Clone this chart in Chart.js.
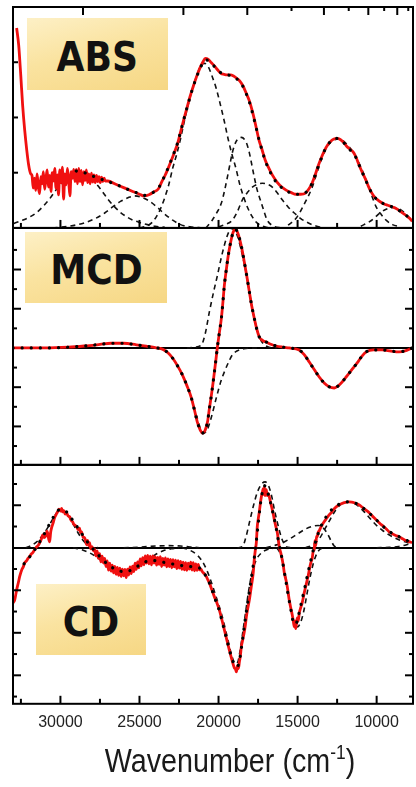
<!DOCTYPE html>
<html>
<head>
<meta charset="utf-8">
<title>ABS / MCD / CD</title>
<script src="https://cdn.jsdelivr.net/npm/chart.js@4"></script>
<style>
    body { margin: 0; background: #fff; }
    #wrap { position: relative; width: 416px; height: 787px; overflow: hidden; }
    #spectra { position: absolute; left: 0; top: 0; }
    .tag {
        position: absolute; display: flex; align-items: center; justify-content: center;
        padding-top: 6px; box-sizing: border-box;
        background: linear-gradient(165deg, #fdf0c6 0%, #fae3a0 45%, #f6d784 100%);
    }
    .tag span {
        font-family: "DejaVu Sans", sans-serif; font-weight: bold; font-size: 41px;
        line-height: 1; color: #111; transform: scaleX(0.88);
    }
    #xTitle {
        position: absolute; left: 230px; top: 744px; white-space: nowrap;
        font-family: "Liberation Sans", Arial, sans-serif; font-size: 33px; line-height: 33px;
        color: #1a1a1a; transform: translateX(-50%) scaleX(0.87);
    }
    #xTitle .sup { font-size: 20px; position: relative; top: -13px; }
</style>
</head>
<body>
<div id="wrap">
    <canvas id="spectra" width="416" height="787"></canvas>
    <div class="tag" style="left:27px;top:18px;width:141px;height:72px"><span>ABS</span></div>
    <div class="tag" style="left:25px;top:232px;width:142px;height:71px"><span>MCD</span></div>
    <div class="tag" style="left:36px;top:584px;width:110px;height:71px"><span>CD</span></div>
    <div id="xTitle">Wavenumber (cm<span class="sup">-1</span>)</div>
</div>
<script>
// axis ticks (cm-1 bottom, nm on top of the ABS panel)
var xMajorTicks = [30000, 25000, 20000, 15000, 10000];
var xMinorTicks = [32500, 27500, 22500, 17500, 12500];
var topNmMajor = [350, 450, 550, 750, 950, 1150];
var topNmMinor = [650, 850, 1050, 1250];
var absLeftTicks = [1, 2, 3];
var mcdMajorTicks = [-2, -1, 1, 2];
var mcdMinorTicks = [-2.5, -1.5, -0.5, 0.5, 1.5, 2.5];
var cdMajorTicks = [-6, -4, -2, 2];
var cdMinorTicks = [-7, -5, -3, -1, 1, 3];

// ---------- ABS ----------
var absExpW = [
    32770, 32640, 32510, 32390, 32260, 32130, 32010, 31880,
    31800, 31720, 31640, 31560, 31480, 31400, 31320, 31240, 31160, 31080,
    31000, 30920, 30840, 30760, 30680, 30600, 30520, 30440, 30360, 30280,
    30200, 30120, 30040, 29960, 29880, 29800, 29720, 29640, 29560, 29480,
    29400, 29320, 29240, 29160, 29080, 29000, 28920, 28840, 28760, 28680,
    28600, 28520, 28440, 28360, 28280, 28200, 28120, 28040, 27960, 27880,
    27800, 27720, 27640, 27560, 27480, 27400, 27320, 27240, 27160,
    27000, 26500, 26000, 25500, 25000, 24700, 24400, 24100, 23800,
    23600, 23400, 23200, 23000, 22800, 22600, 22400, 22200, 22000, 21800,
    21600, 21400, 21200, 21000, 20830, 20650, 20450, 20250, 20050, 19850,
    19650, 19450, 19250, 19050, 18850, 18650, 18450, 18250, 18050, 17850,
    17650, 17450, 17250, 17050, 16850, 16600, 16300, 16000, 15700, 15400,
    15100, 14800, 14500, 14300, 14100, 13900, 13700, 13500, 13300, 13100,
    12900, 12700, 12500, 12300, 12100, 11900, 11700, 11500, 11300, 11100,
    10900, 10700, 10500, 10300, 10100, 9900, 9700, 9500, 9300, 9100,
    8900, 8700, 8500, 8300, 8100, 7900, 7750
];
var absExpA = [
    3.62, 3.31, 2.77, 2.22, 1.77, 1.41, 1.14, 0.98,
    0.95, 0.72, 0.90, 0.68, 0.98, 0.75, 0.62, 0.93, 0.80, 1.02,
    0.70, 0.88, 1.05, 0.74, 0.95, 0.66, 1.00, 0.85, 1.08, 0.72,
    0.96, 0.60, 1.05, 0.82, 1.10, 0.52, 0.98, 0.78, 1.08, 0.86,
    0.58, 1.02, 0.90, 1.06, 0.84, 1.06, 0.80, 1.08, 0.84, 1.04,
    0.78, 1.02, 0.86, 1.05, 0.82, 0.98, 0.80, 0.99, 0.83, 0.96,
    0.82, 0.95, 0.84, 0.93, 0.82, 0.92, 0.84, 0.90, 0.85,
    0.85, 0.79, 0.73, 0.67, 0.61, 0.58, 0.60, 0.65, 0.71,
    0.83, 0.94, 1.07, 1.21, 1.36, 1.52, 1.74, 1.96, 2.17, 2.38,
    2.56, 2.73, 2.88, 3.00, 3.07, 3.05, 2.99, 2.93, 2.86, 2.80,
    2.78, 2.77, 2.77, 2.75, 2.71, 2.66, 2.57, 2.44, 2.30, 2.10,
    1.86, 1.60, 1.42, 1.23, 1.10, 0.96, 0.83, 0.74, 0.68, 0.64,
    0.61, 0.61, 0.63, 0.70, 0.80, 0.95, 1.12, 1.27, 1.40, 1.50,
    1.57, 1.61, 1.62, 1.60, 1.55, 1.48, 1.43, 1.38, 1.28, 1.13,
    1.00, 0.88, 0.74, 0.63, 0.55, 0.50, 0.46, 0.43, 0.41, 0.39,
    0.37, 0.34, 0.30, 0.26, 0.22, 0.17, 0.12
];
var absFitW = [
    29000, 28600, 28200, 27800,
    27400, 27000, 26500, 26000, 25500, 25000, 24700, 24400, 24100, 23800,
    23600, 23400, 23200, 23000, 22800, 22600, 22400, 22200, 22000, 21800,
    21600, 21400, 21200, 21000, 20830, 20650, 20450, 20250, 20050, 19850,
    19650, 19450, 19250, 19050, 18850, 18650, 18450, 18250, 18050, 17850,
    17650, 17450, 17250, 17050, 16850, 16600, 16300, 16000, 15700, 15400,
    15100, 14800, 14500, 14300, 14100, 13900, 13700, 13500, 13300, 13100,
    12900, 12700, 12500, 12300, 12100, 11900, 11700, 11500, 11300, 11100,
    10900, 10700, 10500, 10300, 10100, 9900, 9700, 9500, 9300, 9100,
    8900, 8700, 8500, 8300, 8100, 7900, 7750
];
var absFitA = [
    1.03, 1.01, 0.97, 0.92,
    0.88, 0.84, 0.79, 0.73, 0.67, 0.62, 0.59, 0.61, 0.65, 0.72,
    0.83, 0.95, 1.08, 1.22, 1.37, 1.53, 1.74, 1.96, 2.17, 2.37,
    2.56, 2.72, 2.87, 2.98, 3.04, 3.03, 2.98, 2.92, 2.86, 2.81,
    2.78, 2.77, 2.76, 2.74, 2.70, 2.65, 2.56, 2.43, 2.28, 2.08,
    1.85, 1.61, 1.41, 1.22, 1.08, 0.94, 0.81, 0.73, 0.67, 0.63,
    0.61, 0.61, 0.64, 0.70, 0.80, 0.95, 1.11, 1.26, 1.40, 1.50,
    1.57, 1.61, 1.62, 1.60, 1.55, 1.48, 1.42, 1.36, 1.27, 1.13,
    1.00, 0.87, 0.74, 0.63, 0.55, 0.50, 0.46, 0.43, 0.41, 0.39,
    0.37, 0.34, 0.30, 0.26, 0.22, 0.17, 0.12
];
var absG1W = [32950, 32500, 32000, 31500, 31100, 30700, 30300, 29900, 29500, 29150, 28850, 28550,
    28200, 27800, 27400, 27000, 26600, 26200, 25800, 25400, 25000, 24500, 24000, 23400];
var absG1A = [0.08, 0.13, 0.19, 0.28, 0.39, 0.52, 0.68, 0.82, 0.93, 0.99, 1.00, 0.99,
    0.93, 0.82, 0.68, 0.52, 0.39, 0.28, 0.20, 0.14, 0.10, 0.06, 0.03, 0.01];
var absG2W = [30500, 29500, 28500, 27800, 27200, 26700, 26200, 25700, 25300, 24900, 24400, 23900, 23400, 22900, 22400, 21800, 21000];
var absG2A = [0.00, 0.03, 0.09, 0.17, 0.27, 0.38, 0.48, 0.55, 0.58, 0.56, 0.49, 0.38, 0.25, 0.14, 0.06, 0.02, 0.00];
var absG3W = [25000, 24600, 24200, 23900, 23650, 23400, 23150, 22900, 22650, 22400,
    22150, 21900, 21650, 21400, 21150, 20900, 20650, 20400, 20140, 19900,
    19650, 19400, 19150, 18900, 18650, 18400, 18150, 17900, 17600, 17200, 16800];
var absG3A = [0.00, 0.03, 0.10, 0.22, 0.36, 0.55, 0.78, 1.08, 1.33, 1.62,
    1.95, 2.25, 2.52, 2.74, 2.92, 2.98, 2.92, 2.74, 2.52, 2.25,
    1.95, 1.62, 1.33, 1.08, 0.78, 0.55, 0.36, 0.22, 0.10, 0.03, 0.00];
var absG4W = [20800, 20400, 20100, 19820, 19600, 19440, 19280, 19130, 18900, 18560, 18250, 18050, 17900, 17740, 17550, 17290, 17100, 16920, 16500, 16000];
var absG4A = [0.00, 0.14, 0.28, 0.45, 0.70, 0.92, 1.15, 1.36, 1.56, 1.64, 1.55, 1.36, 1.15, 0.92, 0.68, 0.45, 0.28, 0.14, 0.03, 0.00];
var absG5W = [20000, 19500, 19130, 18800, 18490, 18150, 17860, 17550, 17230, 16900, 16600, 16300, 15970, 15600, 15210, 14800, 14450, 14000, 13500];
var absG5A = [0.02, 0.07, 0.14, 0.30, 0.51, 0.65, 0.74, 0.79, 0.81, 0.79, 0.74, 0.64, 0.51, 0.38, 0.27, 0.17, 0.11, 0.05, 0.01];
var absG6W = [15600, 15080, 14600, 14070, 13750, 13440, 13000, 12370, 11800, 11300, 10950, 10660, 10350, 10030, 9700, 9400, 9000, 8500];
var absG6A = [0.05, 0.18, 0.42, 0.74, 1.02, 1.28, 1.52, 1.61, 1.49, 1.28, 1.07, 0.87, 0.62, 0.38, 0.24, 0.14, 0.06, 0.02];
var absG7W = [11000, 10470, 10100, 9840, 9400, 8900, 8600, 8300, 8000, 7700];
var absG7A = [0.03, 0.11, 0.19, 0.26, 0.34, 0.37, 0.35, 0.29, 0.20, 0.11];

// ---------- MCD ----------
var mcdExpW = [
    33000, 31000, 29500, 28500, 27500, 26800, 26000, 25200, 24500, 24000,
    23550, 23200, 22920, 22600, 22280, 22000, 21720, 21500, 21340, 21150,
    21020, 20850, 20700, 20580, 20450, 20350, 20260, 20160, 20070, 19950,
    19820, 19720, 19630, 19500, 19380, 19250, 19130, 19020, 18940, 18800,
    18680, 18520, 18370, 18200, 18050, 17900, 17740, 17580, 17420, 17200,
    16980, 16650, 16350, 15900, 15530, 14900, 14580, 14260, 13950, 13630,
    13300, 13000, 12680, 12300, 11930, 11580, 11230, 10950, 10660, 10200,
    9650, 9100, 8580, 8100, 7750
];
var mcdExpA = [
    0.00, 0.00, 0.02, 0.05, 0.09, 0.12, 0.12, 0.08, 0.04, 0.01,
    -0.03, -0.12, -0.25, -0.45, -0.69, -0.96, -1.27, -1.62, -1.89, -2.10,
    -2.17, -2.10, -1.89, -1.55, -1.20, -0.90, -0.61, -0.28, 0.03, 0.38,
    0.76, 1.18, 1.60, 2.02, 2.37, 2.66, 2.88, 3.00, 3.03, 2.95,
    2.80, 2.52, 2.19, 1.80, 1.43, 1.07, 0.76, 0.48, 0.28, 0.19,
    0.15, 0.09, 0.05, 0.02, 0.00, -0.05, -0.17, -0.36, -0.55, -0.74,
    -0.90, -0.99, -1.02, -0.92, -0.74, -0.56, -0.38, -0.22, -0.10, -0.05,
    -0.05, -0.08, -0.10, -0.06, 0.00
];
var mcdNegW = [24500, 23500, 22920, 22600, 22280, 22000, 21720, 21400, 21150, 20930, 20700, 20450, 20140, 19850, 19630, 19350, 19130, 18800, 18400, 17500];
var mcdNegA = [0.00, -0.05, -0.25, -0.45, -0.69, -0.96, -1.27, -1.72, -2.05, -2.17, -2.07, -1.76, -1.27, -0.85, -0.61, -0.35, -0.18, -0.07, -0.02, 0.00];
var mcdPosW = [22000, 21500, 21080, 20850, 20580, 20300, 20070, 19800, 19500, 19300, 19180, 19000, 18800, 18600, 18370, 18200, 18050, 17900, 17740, 17550, 17350, 17100, 16800, 16300];
var mcdPosA = [0.00, 0.02, 0.08, 0.35, 0.92, 1.45, 1.85, 2.35, 2.80, 3.00, 3.05, 3.00, 2.85, 2.55, 2.15, 1.80, 1.43, 1.07, 0.76, 0.45, 0.22, 0.08, 0.02, 0.00];

// ---------- CD ----------
var cdExpW = [
    33000, 32890, 32770, 32650, 32580, 32450, 32350, 32260, 32150, 32050,
    31950, 31850, 31760, 31650, 31500, 31400, 31310, 31200, 31120, 31030,
    30930, 30850, 30810, 30740, 30680, 30620, 30560, 30470, 30370, 30280,
    30180, 30100, 30050, 29980, 29920, 29860, 29780, 29700, 29610, 29520,
    29420, 29330, 29230, 29150, 29060, 28980, 28880, 28800, 28720, 28660,
    28570, 28470, 28400, 28350, 28280, 28200, 28160, 28080, 28000, 27920,
    27840, 27760, 27680, 27600, 27520, 27440, 27360, 27280, 27200, 27120,
    27040, 26960, 26880, 26800, 26720, 26640, 26560, 26480, 26400, 26320,
    26240, 26160, 26080, 26000, 25920, 25840, 25760, 25680, 25600, 25520,
    25440, 25360, 25280, 25200, 25120, 25040, 24960, 24880, 24800, 24720,
    24640, 24560, 24480, 24400, 24320, 24240, 24160, 24080, 24000, 23920,
    23840, 23760, 23680, 23600, 23520, 23440, 23360, 23280, 23200, 23120,
    23040, 22960, 22880, 22800, 22720, 22640, 22560, 22480, 22400, 22320,
    22240, 22160, 22080, 22000, 21920, 21840, 21760, 21680, 21600, 21520,
    21440, 21360, 21280, 21200, 21120, 21020, 20900, 20770, 20680, 20580,
    20420, 20260, 20100, 19950, 19800, 19630, 19480, 19320, 19160, 19000,
    18930, 18870, 18800, 18740, 18680, 18620, 18560, 18460, 18370, 18300,
    18240, 18150, 18050, 17990, 17930, 17860, 17800, 17740, 17680, 17610,
    17550, 17490, 17420, 17360, 17290, 17230, 17170, 17130, 17100, 17060,
    17020, 16980, 16920, 16860, 16790, 16700, 16600, 16530, 16470, 16380,
    16280, 16220, 16160, 16060, 15970, 15900, 15840, 15740, 15650, 15590,
    15530, 15440, 15340, 15280, 15210, 15160, 15120, 15080, 15020, 14960,
    14890, 14800, 14710, 14640, 14580, 14480, 14390, 14320, 14260, 14170,
    14070, 14010, 13950, 13900, 13850, 13800, 13760, 13700, 13630, 13540,
    13440, 13320, 13190, 13030, 12870, 12740, 12620, 12500, 12370, 12200,
    12050, 11900, 11740, 11580, 11420, 11260, 11100, 10950, 10790, 10630,
    10470, 10320, 10160, 10000, 9840, 9690, 9530, 9370, 9210, 9050,
    8890, 8730, 8580, 8420, 8260, 8000, 7760
];
var cdExpA = [
    -2.60, -2.45, -1.98, -1.60, -1.36, -1.04, -0.90, -0.71, -0.62, -0.50,
    -0.42, -0.30, -0.24, -0.12, 0.05, 0.12, 0.24, 0.42, 0.61, 0.48,
    0.55, 0.78, 0.70, 0.40, 0.28, 0.72, 0.94, 1.15, 1.41, 1.55,
    1.69, 1.82, 1.79, 1.72, 1.85, 1.69, 1.75, 1.58, 1.65, 1.50,
    1.46, 1.30, 1.22, 1.10, 1.05, 0.99, 0.85, 0.92, 0.70, 0.75,
    0.50, 0.47, 0.30, 0.14, 0.35, 0.10, 0.24, -0.05, 0.05, -0.15,
    -0.05, -0.38, -0.15, -0.50, -0.28, -0.66, -0.40, -0.72, -0.50, -0.88,
    -0.62, -1.05, -0.72, -1.10, -0.82, -1.18, -0.88, -1.25, -0.92, -1.30,
    -0.96, -1.35, -1.00, -1.32, -1.02, -1.40, -1.00, -1.28, -0.90, -1.22,
    -0.86, -1.12, -0.72, -1.02, -0.66, -0.95, -0.52, -0.85, -0.46, -0.80,
    -0.38, -0.72, -0.36, -0.76, -0.40, -0.80, -0.38, -0.72, -0.42, -0.82,
    -0.45, -0.78, -0.42, -0.88, -0.50, -0.82, -0.48, -0.90, -0.52, -0.88,
    -0.55, -0.94, -0.56, -0.90, -0.58, -0.98, -0.60, -0.96, -0.64, -1.02,
    -0.68, -1.04, -0.70, -1.06, -0.72, -1.00, -0.68, -1.05, -0.70, -1.08,
    -0.76, -1.06, -0.78, -1.04, -1.00, -1.13, -1.22, -1.36, -1.50, -1.65,
    -1.98, -2.31, -2.60, -2.92, -3.35, -3.86, -4.32, -4.80, -5.25, -5.65,
    -5.70, -5.84, -5.55, -5.68, -5.36, -5.10, -4.66, -4.30, -3.95, -3.62,
    -3.25, -2.85, -2.45, -2.15, -1.84, -1.50, -1.13, -0.56, -0.15, 0.24,
    0.99, 1.35, 1.69, 2.05, 2.40, 2.60, 2.78, 2.50, 2.87, 2.45,
    2.70, 2.73, 2.45, 2.55, 2.40, 2.10, 1.79, 1.55, 1.32, 1.02,
    0.71, 0.38, 0.05, -0.25, -0.56, -0.85, -1.18, -1.50, -1.84, -2.15,
    -2.45, -2.80, -3.15, -3.40, -3.72, -3.45, -3.80, -3.62, -3.30, -3.45,
    -3.06, -2.82, -2.59, -2.35, -2.12, -1.80, -1.51, -1.28, -1.04, -0.72,
    -0.47, -0.15, -0.09, 0.35, 0.10, 0.55, 0.52, 0.72, 0.80, 0.95,
    1.08, 1.22, 1.36, 1.52, 1.65, 1.78, 1.88, 1.96, 2.02, 2.08,
    2.12, 2.15, 2.16, 2.15, 2.12, 2.07, 2.02, 1.93, 1.84, 1.75,
    1.65, 1.53, 1.41, 1.30, 1.18, 1.08, 0.99, 0.87, 0.75, 0.68,
    0.61, 0.56, 0.52, 0.45, 0.38, 0.30, 0.24
];
var cdFitW = [
    32300, 31900, 31500, 31100, 30700, 30400, 30100, 29850, 29600, 29300,
    29000, 28700, 28400, 28100, 27800, 27500, 27200, 26900, 26600, 26300,
    26000, 25700, 25400, 25100, 24800, 24500, 24200, 23900, 23600, 23300,
    23000, 22700, 22400, 22100, 21800, 21500, 21200, 21000, 20800, 20600,
    20400, 20200, 20000, 19800, 19600, 19400, 19200, 19000, 18850, 18700,
    18550, 18400, 18250, 18100, 17950, 17800, 17650, 17500, 17350, 17200,
    17100, 16980, 16800, 16600, 16400, 16200, 16000, 15800, 15600, 15400,
    15250, 15120, 14950, 14750, 14550, 14350, 14150, 13950, 13750, 13500,
    13200, 12900, 12600, 12300, 12000, 11750, 11500, 11200, 10900, 10600,
    10300, 10000, 9700, 9400, 9100, 8800, 8500, 8200, 7900, 7750
];
var cdFitA = [
    -0.75, -0.38, 0.05, 0.55, 1.10, 1.50, 1.78, 1.80, 1.68, 1.38,
    1.05, 0.72, 0.38, 0.10, -0.18, -0.42, -0.65, -0.84, -0.98, -1.08,
    -1.12, -1.10, -1.00, -0.86, -0.72, -0.63, -0.60, -0.62, -0.66, -0.71,
    -0.75, -0.79, -0.83, -0.86, -0.88, -0.90, -0.95, -1.08, -1.33, -1.62,
    -2.02, -2.45, -2.85, -3.38, -3.98, -4.55, -5.10, -5.50, -5.60, -5.40,
    -4.70, -3.85, -3.05, -2.30, -1.55, -0.80, 0.05, 1.05, 2.05, 2.72,
    2.92, 2.80, 2.38, 1.78, 1.10, 0.28, -0.45, -1.30, -2.20, -3.00,
    -3.55, -3.60, -3.20, -2.55, -1.90, -1.20, -0.55, 0.05, 0.55, 1.05,
    1.45, 1.75, 1.95, 2.07, 2.14, 2.16, 2.13, 2.05, 1.90, 1.72,
    1.52, 1.30, 1.08, 0.88, 0.72, 0.60, 0.49, 0.38, 0.29, 0.24
];
var cdC1W = [32200, 31800, 31400, 31000, 30600, 30300, 30050, 29800, 29500, 29200, 28900, 28600, 28300, 28000, 27600];
var cdC1A = [0.00, 0.12, 0.35, 0.72, 1.20, 1.58, 1.78, 1.74, 1.50, 1.12, 0.72, 0.38, 0.15, 0.04, 0.00];
var cdC2W = [29200, 28600, 28000, 27500, 27000, 26500, 26000, 25500, 25000, 24500, 24000, 23500, 23000, 22500];
var cdC2A = [0.00, -0.10, -0.30, -0.55, -0.80, -1.00, -1.10, -1.05, -0.85, -0.58, -0.32, -0.14, -0.05, 0.00];
var cdC3W = [26000, 25000, 24000, 23200, 22400, 21800, 21200];
var cdC3A = [0.00, 0.03, 0.08, 0.10, 0.08, 0.04, 0.00];
var cdC4W = [22300, 21800, 21300, 20900, 20580, 20200, 19760, 19400, 19150, 18950, 18800, 18650, 18490, 18300, 18100, 17860, 17600, 17300, 16980, 16500, 16000];
var cdC4A = [0.00, -0.12, -0.38, -0.80, -1.36, -2.20, -3.25, -4.35, -5.10, -5.45, -5.40, -4.90, -4.10, -3.10, -2.05, -1.10, -0.55, -0.25, -0.10, -0.02, 0.00];
var cdC5W = [18800, 18490, 18250, 18050, 17800, 17550, 17300, 17050, 16800, 16600, 16470, 16250, 16030, 15850, 15720, 15400];
var cdC5A = [0.00, 0.05, 0.55, 1.18, 1.95, 2.60, 2.98, 3.10, 2.85, 2.30, 1.80, 1.10, 0.50, 0.18, 0.05, 0.00];
var cdC6W = [16300, 16000, 15800, 15600, 15400, 15200, 15000, 14800, 14600, 14400, 14200, 14000, 13800, 13600, 13300];
var cdC6A = [0.00, -0.45, -1.20, -2.10, -2.95, -3.55, -3.72, -3.50, -2.95, -2.15, -1.35, -0.72, -0.30, -0.08, 0.00];
var cdC8W = [17000, 16500, 16000, 15500, 15000, 14500, 14000, 13700, 13400, 13100, 12900, 12700, 12500];
var cdC8A = [0.00, 0.10, 0.22, 0.42, 0.65, 0.88, 1.02, 1.05, 0.95, 0.65, 0.35, 0.10, 0.00];
var cdC7W = [14500, 14000, 13600, 13300, 13000, 12700, 12400, 12000, 11750, 11400, 11100, 10800, 10500, 10200, 9900, 9600, 9300, 9000, 8600, 8200, 7750];
var cdC7A = [0.00, 0.15, 0.45, 0.85, 1.25, 1.65, 1.95, 2.12, 2.16, 2.08, 1.92, 1.70, 1.45, 1.20, 0.98, 0.80, 0.65, 0.52, 0.38, 0.28, 0.18];
var cdC9W = [10000, 9200, 8600, 8100, 7750];
var cdC9A = [0.00, 0.02, 0.06, 0.14, 0.22];

function toPoints(ws, vs) {
    return ws.map(function (w, i) { return { x: w, y: vs[i] }; });
}

// one line dataset; kind = exp (red data), fit (dotted sum), comp (dashed band)
function curve(ws, vs, axisId, kind) {
    var ds = {
        data: toPoints(ws, vs),
        xAxisID: 'x',
        yAxisID: axisId,
        pointRadius: 0,
        fill: false,
        cubicInterpolationMode: 'monotone'
    };
    if (kind === 'exp') {
        ds.borderColor = '#f01010';
        ds.borderWidth = 2.8;
    } else if (kind === 'fit') {
        ds.borderColor = '#000';
        ds.borderWidth = 3.2;
        ds.borderDash = [0.1, 9];
        ds.borderCapStyle = 'round';
    } else {
        ds.borderColor = '#111';
        ds.borderWidth = 1.6;
        ds.borderDash = [5, 4];
    }
    return ds;
}

// first dataset is drawn on top: fits, then data, then components
var datasets = [
    curve(absFitW, absFitA, 'yAbs', 'fit'),
    curve(mcdExpW, mcdExpA, 'yMcd', 'fit'),
    curve(cdFitW, cdFitA, 'yCd', 'fit'),
    curve(absExpW, absExpA, 'yAbs', 'exp'),
    curve(mcdExpW, mcdExpA, 'yMcd', 'exp'),
    curve(cdExpW, cdExpA, 'yCd', 'exp'),
    curve(absG1W, absG1A, 'yAbs', 'comp'),
    curve(absG2W, absG2A, 'yAbs', 'comp'),
    curve(absG3W, absG3A, 'yAbs', 'comp'),
    curve(absG4W, absG4A, 'yAbs', 'comp'),
    curve(absG5W, absG5A, 'yAbs', 'comp'),
    curve(absG6W, absG6A, 'yAbs', 'comp'),
    curve(absG7W, absG7A, 'yAbs', 'comp'),
    curve(mcdNegW, mcdNegA, 'yMcd', 'comp'),
    curve(mcdPosW, mcdPosA, 'yMcd', 'comp'),
    curve(cdC1W, cdC1A, 'yCd', 'comp'),
    curve(cdC2W, cdC2A, 'yCd', 'comp'),
    curve(cdC3W, cdC3A, 'yCd', 'comp'),
    curve(cdC4W, cdC4A, 'yCd', 'comp'),
    curve(cdC5W, cdC5A, 'yCd', 'comp'),
    curve(cdC6W, cdC6A, 'yCd', 'comp'),
    curve(cdC8W, cdC8A, 'yCd', 'comp'),
    curve(cdC7W, cdC7A, 'yCd', 'comp'),
    curve(cdC9W, cdC9A, 'yCd', 'comp')
];

// frames, inward ticks and zero lines
var panelFrame = {
    id: 'panelFrame',
    beforeDatasetsDraw: function (chart) {
        var ctx = chart.ctx, a = chart.chartArea;
        ctx.save();
        ctx.strokeStyle = '#000';
        ctx.lineWidth = 2;
        ['yMcd', 'yCd'].forEach(function (id) {
            var y = Math.round(chart.scales[id].getPixelForValue(0));
            ctx.beginPath(); ctx.moveTo(a.left, y); ctx.lineTo(a.right, y); ctx.stroke();
        });
        ctx.restore();
    },
    afterDatasetsDraw: function (chart) {
        var ctx = chart.ctx, a = chart.chartArea, x = chart.scales.x;
        var yAbs = chart.scales.yAbs, yMcd = chart.scales.yMcd, yCd = chart.scales.yCd;
        ctx.save();
        ctx.strokeStyle = '#000';
        ctx.lineWidth = 2;
        function seg(x1, y1, x2, y2) {
            ctx.beginPath(); ctx.moveTo(x1, y1); ctx.lineTo(x2, y2); ctx.stroke();
        }
        [yAbs, yMcd, yCd].forEach(function (s) {
            ctx.strokeRect(a.left, s.top, a.right - a.left, s.bottom - s.top);
            xMajorTicks.forEach(function (w) {
                var px = x.getPixelForValue(w); seg(px, s.bottom, px, s.bottom - 8);
            });
            xMinorTicks.forEach(function (w) {
                var px = x.getPixelForValue(w); seg(px, s.bottom, px, s.bottom - 5);
            });
        });
        // wavelength ticks on top of ABS
        topNmMajor.forEach(function (nm) {
            var px = x.getPixelForValue(1e7 / nm); seg(px, a.top, px, a.top + 8);
        });
        topNmMinor.forEach(function (nm) {
            var px = x.getPixelForValue(1e7 / nm); seg(px, a.top, px, a.top + 4);
        });
        absLeftTicks.forEach(function (v) {
            var py = yAbs.getPixelForValue(v); seg(a.left, py, a.left + 5, py);
        });
        function sideTicks(scale, values, len) {
            values.forEach(function (v) {
                var py = scale.getPixelForValue(v);
                seg(a.left, py, a.left + len, py);
                seg(a.right, py, a.right - len, py);
            });
        }
        sideTicks(yMcd, mcdMajorTicks, 8);
        sideTicks(yMcd, mcdMinorTicks, 4);
        sideTicks(yCd, cdMajorTicks, 8);
        sideTicks(yCd, cdMinorTicks, 4);
        ctx.restore();
    }
};

var ctx = document.getElementById('spectra').getContext('2d');
var spectraChart = new Chart(ctx, {
    type: 'line',
    data: { datasets: datasets },
    options: {
        responsive: false,
        animation: false,
        devicePixelRatio: 1,
        events: [],
        layout: { padding: { left: 13, right: 3, top: 7, bottom: 46 } },
        plugins: { legend: { display: false }, tooltip: { enabled: false } },
        scales: {
            x: {
                type: 'linear', reverse: true, min: 7700, max: 33000,
                grid: { display: false, drawTicks: false },
                border: { display: false },
                afterBuildTicks: function (axis) {
                    axis.ticks = xMajorTicks.map(function (v) { return { value: v }; });
                },
                ticks: {
                    padding: 9, color: '#222', maxRotation: 0, autoSkip: false,
                    font: { family: "'Liberation Sans', Arial, sans-serif", size: 16 },
                    callback: function (value) { return String(value); }
                }
            },
            yAbs: { type: 'linear', display: false, min: 0, max: 4, stack: 'panels', stackWeight: 221, weight: 3 },
            yMcd: { type: 'linear', display: false, min: -2.98, max: 3.06, stack: 'panels', stackWeight: 237, weight: 2 },
            yCd: { type: 'linear', display: false, min: -7.34, max: 3.9, stack: 'panels', stackWeight: 239, weight: 1 }
        }
    },
    plugins: [panelFrame]
});
</script>
</body>
</html>
